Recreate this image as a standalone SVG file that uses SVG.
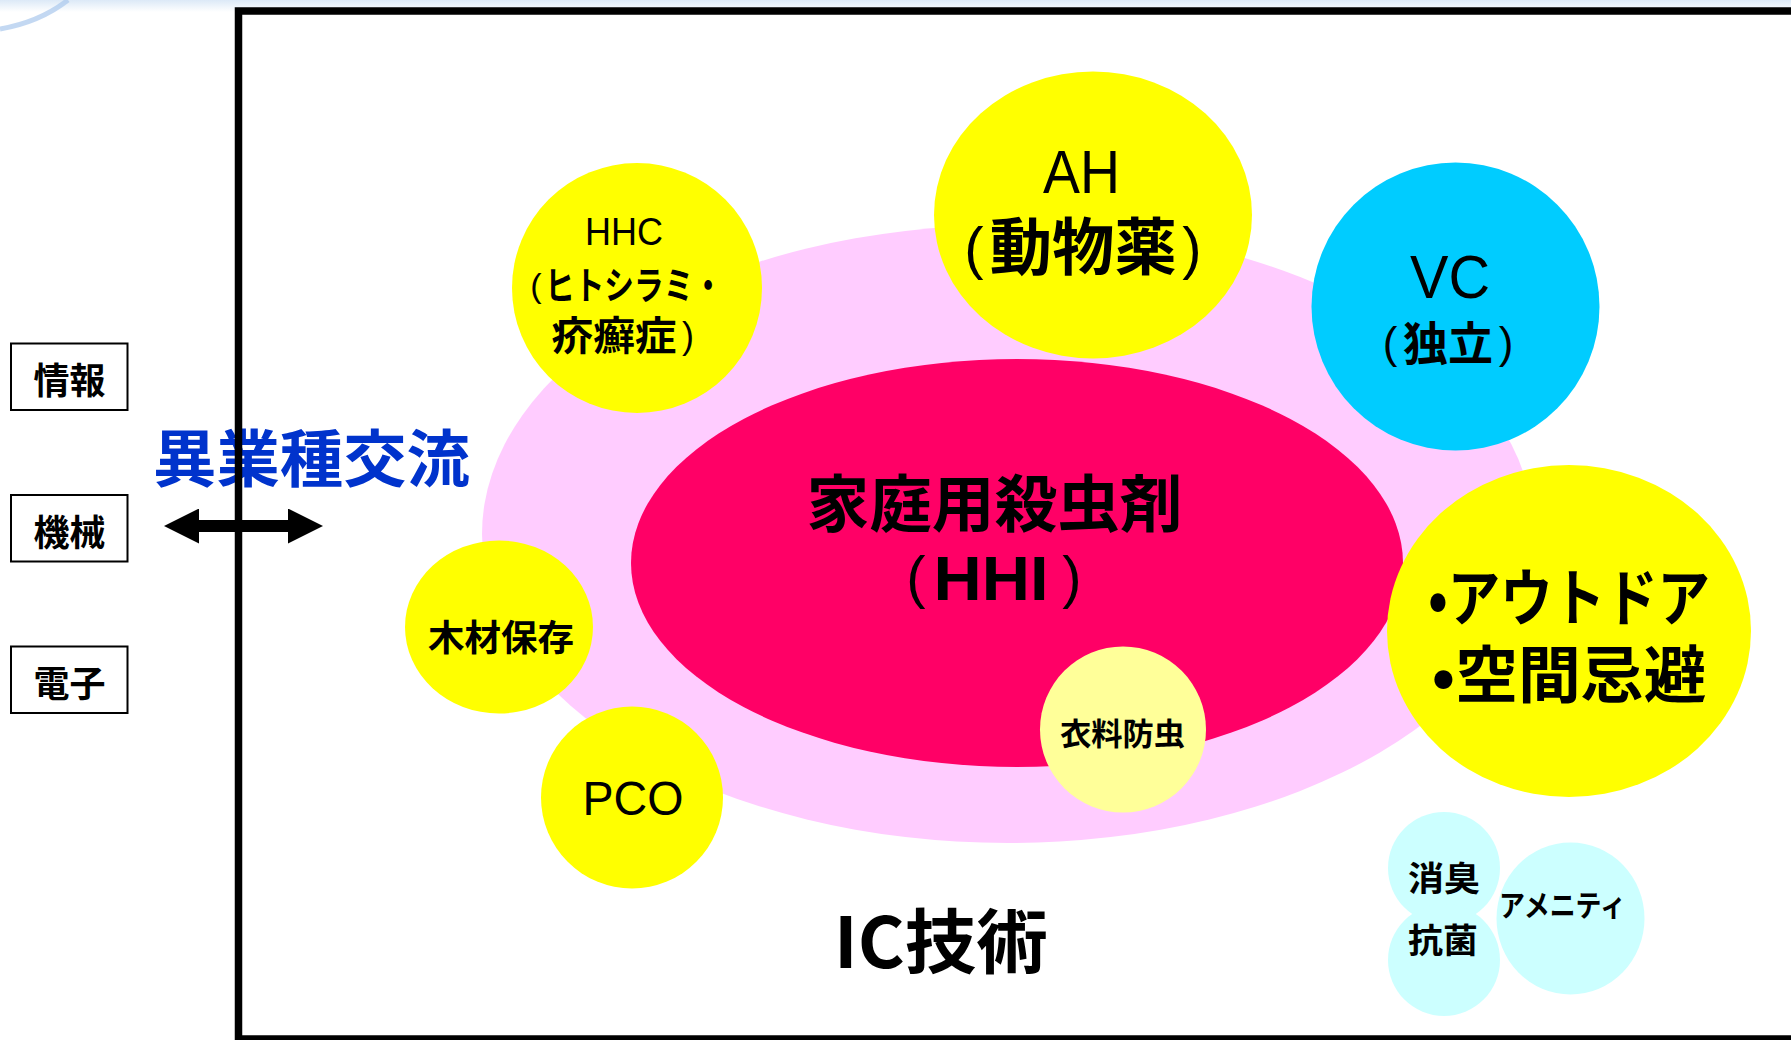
<svg xmlns="http://www.w3.org/2000/svg" width="1791" height="1040" viewBox="0 0 1791 1040">
<defs>
<linearGradient id="topg" x1="0" y1="0" x2="0" y2="1">
<stop offset="0" stop-color="#dce9f7"/>
<stop offset="1" stop-color="#ffffff"/>
</linearGradient>
<marker id="ah" viewBox="0 0 35 35" markerWidth="35" markerHeight="35" markerUnits="userSpaceOnUse" refX="0" refY="17.5" orient="auto-start-reverse">
<path d="M0,0 L35,17.5 L0,35 z" fill="#000"/>
</marker>
<style>
.t{font-family:"Liberation Sans","Noto Sans CJK JP",sans-serif;fill:#000;text-anchor:middle}
.p{font-family:"Liberation Sans",sans-serif;fill:#000;text-anchor:middle}
.j{font-family:"Noto Sans CJK JP","Liberation Sans",sans-serif;font-weight:bold;fill:#000;text-anchor:middle}
.box{fill:#fff;stroke:#000;stroke-width:2}
.yel{fill:#ffff00}
</style>
</defs>
<rect x="0" y="0" width="1791" height="1040" fill="#fff"/>
<rect x="0" y="0" width="1791" height="12" fill="url(#topg)"/>
<path d="M0,29 Q40,22 68,0" fill="none" stroke="#a9c7ec" stroke-width="5" opacity="0.7"/>

<g id="side-info"><rect class="box" x="11" y="343.5" width="116.5" height="66.5"/><text class="j" x="69.5" y="394" font-size="36" textLength="72" lengthAdjust="spacingAndGlyphs">情報</text></g>
<g id="side-mech"><rect class="box" x="11" y="495" width="116.5" height="66.5"/><text class="j" x="69.5" y="546" font-size="36" textLength="72" lengthAdjust="spacingAndGlyphs">機械</text></g>
<g id="side-elec"><rect class="box" x="11" y="646.5" width="116.5" height="66.5"/><text class="j" x="69.5" y="697" font-size="36" textLength="72" lengthAdjust="spacingAndGlyphs">電子</text></g>

<g id="label-exchange"><text class="j" x="311.5" y="482" font-size="62" style="fill:#0033cc" textLength="317" lengthAdjust="spacingAndGlyphs">異業種交流</text></g>

<g id="connectors">
<line x1="199" y1="526" x2="288" y2="526" stroke="#000" stroke-width="12" marker-start="url(#ah)" marker-end="url(#ah)"/>
</g>

<g id="frame"><rect x="238.5" y="11" width="1600" height="1028" fill="none" stroke="#000" stroke-width="7.5"/></g>

<g id="ic-zone"><ellipse cx="1008" cy="534" rx="526" ry="309" fill="#ffccff"/></g>
<g id="hhi"><ellipse cx="1017" cy="563" rx="386" ry="204" fill="#ff0066"/>
<text class="j" x="994.5" y="527" font-size="62" textLength="376" lengthAdjust="spacingAndGlyphs">家庭用殺虫剤</text>
<text class="p" x="916" y="597" font-size="58">(</text>
<text class="p" x="991" y="600" font-size="63" font-weight="bold" textLength="115" lengthAdjust="spacingAndGlyphs">HHI</text>
<text class="p" x="1072" y="597" font-size="58">)</text></g>

<g id="hhc"><circle class="yel" cx="637" cy="288" r="125"/>
<text class="t" x="624" y="245" font-size="39" textLength="78" lengthAdjust="spacingAndGlyphs">HHC</text>
<text class="p" x="536" y="297" font-size="34">(</text>
<text class="j" x="634" y="299" font-size="38" textLength="178" lengthAdjust="spacingAndGlyphs">ヒトシラミ・</text>
<text class="j" x="614" y="350" font-size="40" textLength="125" lengthAdjust="spacingAndGlyphs">疥癬症</text>
<text class="p" x="688" y="348" font-size="36">)</text></g>

<g id="ah"><ellipse class="yel" cx="1093" cy="215" rx="159" ry="143.5"/>
<text class="t" x="1081.5" y="192.5" font-size="61" textLength="77" lengthAdjust="spacingAndGlyphs">AH</text>
<text class="p" x="974" y="268" font-size="58">(</text>
<text class="j" x="1083.3" y="270" font-size="62" textLength="187" lengthAdjust="spacingAndGlyphs">動物薬</text>
<text class="p" x="1192" y="268" font-size="58">)</text></g>

<g id="vc"><circle cx="1455.5" cy="306.5" r="144" fill="#00ccff"/>
<text class="t" x="1450" y="298" font-size="61" textLength="80" lengthAdjust="spacingAndGlyphs">VC</text>
<text class="p" x="1390" y="358" font-size="44">(</text>
<text class="j" x="1448" y="360" font-size="46" textLength="90" lengthAdjust="spacingAndGlyphs">独立</text>
<text class="p" x="1506" y="358" font-size="44">)</text></g>

<g id="wood"><ellipse class="yel" cx="499" cy="627" rx="94" ry="86.5"/>
<text class="j" x="501" y="650.5" font-size="36" textLength="146" lengthAdjust="spacingAndGlyphs">木材保存</text></g>

<g id="pco"><circle class="yel" cx="632" cy="797.5" r="91"/>
<text class="t" x="633" y="815" font-size="48" textLength="101" lengthAdjust="spacingAndGlyphs">PCO</text></g>

<g id="clothes"><circle cx="1123" cy="729.5" r="83" fill="#ffff99"/>
<text class="j" x="1122.5" y="744.5" font-size="31" textLength="125" lengthAdjust="spacingAndGlyphs">衣料防虫</text></g>

<g id="outdoor"><ellipse class="yel" cx="1569" cy="631" rx="182" ry="166"/>
<text class="j" x="1569" y="621" font-size="62" textLength="282" lengthAdjust="spacingAndGlyphs">•アウトドア</text>
<text class="j" x="1569" y="698" font-size="62" textLength="275" lengthAdjust="spacingAndGlyphs">•空間忌避</text></g>

<g id="amenity"><circle cx="1444" cy="868" r="56" fill="#ccffff"/><circle cx="1444" cy="960" r="56" fill="#ccffff"/><ellipse cx="1570.5" cy="918.5" rx="74" ry="76" fill="#ccffff"/>
<text class="j" x="1444" y="891" font-size="34" textLength="72" lengthAdjust="spacingAndGlyphs">消臭</text>
<text class="j" x="1443" y="952.5" font-size="34" textLength="70" lengthAdjust="spacingAndGlyphs">抗菌</text>
<text class="j" x="1562.5" y="915.5" font-size="30" textLength="127" lengthAdjust="spacingAndGlyphs">アメニティ</text></g>

<g id="ic-label"><text class="j" x="941" y="967.5" font-size="70" textLength="214" lengthAdjust="spacingAndGlyphs">IC技術</text></g>
</svg>
